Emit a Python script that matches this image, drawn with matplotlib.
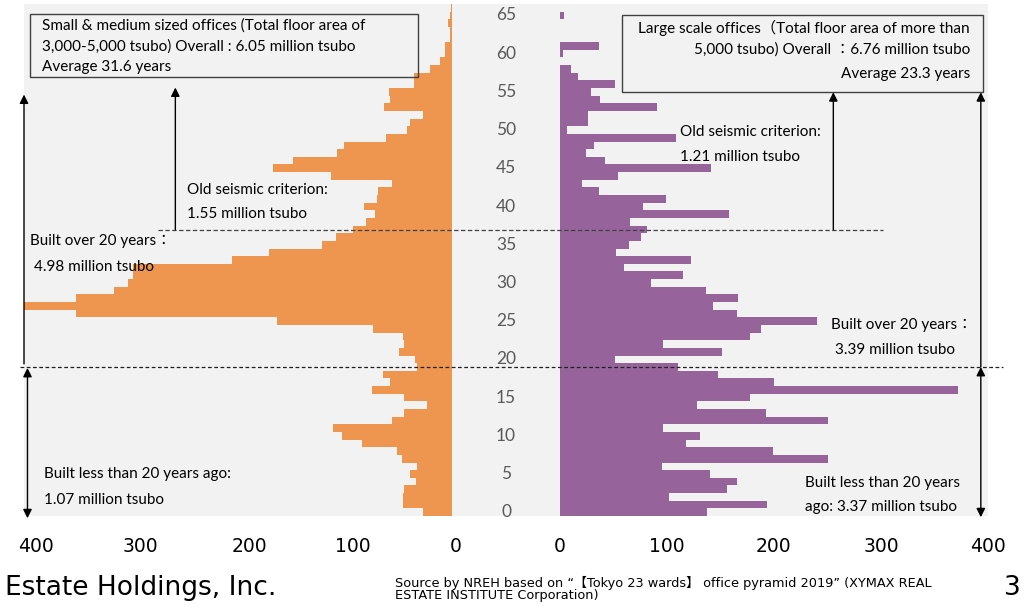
import matplotlib
matplotlib.use("Agg")
import matplotlib.pyplot as plt
from matplotlib.patches import Rectangle
from matplotlib.transforms import ScaledTranslation

plt.rcParams['font.family'] = ['Lato', 'Noto Sans CJK JP', 'DejaVu Sans']

# floor area by building age (thousand tsubo), index = age in years
ages = list(range(67))
small_medium = [27.5, 46, 46, 45.5, 34, 40, 33, 47, 52, 84.5,
                103, 111.5, 56.5, 45.5, 23.5, 45.5, 75, 58.5, 65, 33,
                34.5, 50, 45.5, 46, 74, 164, 351, 402, 351, 316,
                303, 298.5, 298.5, 206, 171.5, 122, 108.5, 93, 81, 72.5,
                82.5, 70.5, 69.5, 56.5, 113.5, 167.5, 149, 108, 101.5, 62.5,
                42.5, 40, 27.5, 64, 58.5, 59.5, 36, 36, 20.5, 12,
                6.5, 6.5, 2, 2, 4, 2, 1]
large_scale = [138, 193.5, 102, 156.5, 165.5, 140.5, 95.5, 251, 199, 118,
               131, 97, 250.5, 192.5, 128, 177.5, 372, 200, 148, 111,
               51.5, 151.5, 97, 177.5, 188.5, 240, 165.5, 143, 166.5, 136.5,
               85, 115.5, 60.5, 122.5, 52.5, 65, 76.5, 81.5, 66, 158,
               77.5, 99, 36.5, 21, 55, 141, 42, 24.5, 32, 108.5,
               7, 27, 27, 91, 37.5, 29, 51.5, 17, 10.5, 0,
               3.5, 36.5, 0, 0, 0, 4.5, 0]

age_ticks = list(range(0, 66, 5))
x_tick_values = [400, 300, 200, 100, 0, 0, 100, 200, 300, 400]

GAP = 50          # half-width of the centre strip holding the age labels
ORANGE = '#EE9550'
PURPLE = '#96649B'

fig = plt.figure(figsize=(10.24, 6.05), dpi=100)
ax = fig.add_axes([24 / 1024, 89 / 605, 964 / 1024, 512 / 605])
ax.set_facecolor('#F2F2F2')

ax.barh(ages, [-v for v in small_medium], left=-GAP, height=1.0,
        color=ORANGE, linewidth=0)
ax.barh(ages, large_scale, left=GAP, height=1.0,
        color=PURPLE, linewidth=0)

ax.set_xlim(-450, 450)
ax.set_ylim(-0.5, 66.5)
for s in ax.spines.values():
    s.set_visible(False)
ax.set_yticks([])
ax.set_xticks([-(v + GAP) for v in x_tick_values[:5]] + [v + GAP for v in x_tick_values[5:]])
ax.set_xticklabels([str(v) for v in x_tick_values], fontsize=13.5, family='DejaVu Sans')
ax.tick_params(axis='x', length=0, pad=15)
# the left-hand labels sit a little right of their ticks
for lbl, dx in zip(ax.get_xticklabels()[:5], [12, 9, 11, 7, 3]):
    lbl.set_transform(lbl.get_transform() + ScaledTranslation(dx / 100, 0, fig.dpi_scale_trans))

for a in age_ticks:
    ax.text(0, a, str(a), ha='center', va='center', fontsize=12.5, color='#595959')

# boundary lines: 20 years old and the old seismic criterion
ax.plot([-453.9, 464.2], [19.0, 19.0], ls=(0, (3, 2)), color='#202020', lw=0.9, clip_on=False)
ax.plot([-324.6, 352.3], [36.96, 36.96], ls=(0, (3.5, 2)), color='#404040', lw=0.9)

def arrow(x, y0, y1, style='-|>'):
    ax.annotate('', xy=(x, y1), xytext=(x, y0), annotation_clip=False,
                arrowprops=dict(arrowstyle=style, color='black', lw=1,
                                mutation_scale=13, shrinkA=0, shrinkB=0))

arrow(-450, 19.4, 54.65)
arrow(-446.75, 18.87, -0.79, '<|-|>')
arrow(-308.7, 36.96, 55.57)
arrow(305.6, 36.96, 54.95)
arrow(443.3, 19.0, 54.95)
arrow(443.3, 19.0, -0.66, '<|-|>')

# summary boxes
ax.add_patch(Rectangle((-444.3, 57.0), 361.7, 8.2, fill=False, lw=1, edgecolor='#404040'))
ax.add_patch(Rectangle((108.7, 55.0), 336.5, 10.1, fill=False, lw=1, edgecolor='#404040'))

fs = 11
ax.text(-433.1, 63.7, 'Small & medium sized offices (Total floor area of', fontsize=fs, va='center')
ax.text(-433.1, 60.9, '3,000-5,000 tsubo) Overall : 6.05 million tsubo', fontsize=fs, va='center')
ax.text(-433.1, 58.2, 'Average 31.6 years', fontsize=fs, va='center')

ax.text(433.3, 63.4, 'Large scale offices（Total floor area of more than', fontsize=fs, va='center', ha='right')
ax.text(433.3, 60.6, '5,000 tsubo) Overall ：6.76 million tsubo', fontsize=fs, va='center', ha='right')
ax.text(433.3, 57.3, 'Average 23.3 years', fontsize=fs, va='center', ha='right')

notes = [
    (-297.5, 42.2, 'Old seismic criterion:'),
    (-297.5, 39.06, '1.55 million tsubo'),
    (-444.3, 35.5, 'Built over 20 years：'),
    (-440.5, 32.1, '4.98 million tsubo'),
    (-431.1, 4.98, 'Built less than 20 years ago:'),
    (-431.1, 1.57, '1.07 million tsubo'),
    (162.3, 49.7, 'Old seismic criterion:'),
    (162.3, 46.5, '1.21 million tsubo'),
    (303.4, 24.5, 'Built over 20 years：'),
    (307.1, 21.2, '3.39 million tsubo'),
    (279.1, 3.84, 'Built less than 20 years'),
    (279.1, 0.66, 'ago: 3.37 million tsubo'),
]
for x, y, s in notes:
    ax.text(x, y, s, fontsize=fs, va='center')

# page footer
fig.text(5 / 1024, 1 - 588 / 605, 'Estate Holdings, Inc.', fontsize=19,
         va='center', family='DejaVu Sans')
fig.text(395 / 1024, 1 - 589 / 605,
         'Source by NREH based on “【Tokyo 23 wards】 office pyramid 2019” (XYMAX REAL\nESTATE INSTITUTE Corporation)',
         fontsize=9.3, va='center', linespacing=0.95,
         family=['DejaVu Sans', 'Noto Sans CJK JP'])
fig.text(1004 / 1024, 1 - 588 / 605, '3', fontsize=19, va='center', family='DejaVu Sans')

fig.savefig('out.png', dpi=100)
